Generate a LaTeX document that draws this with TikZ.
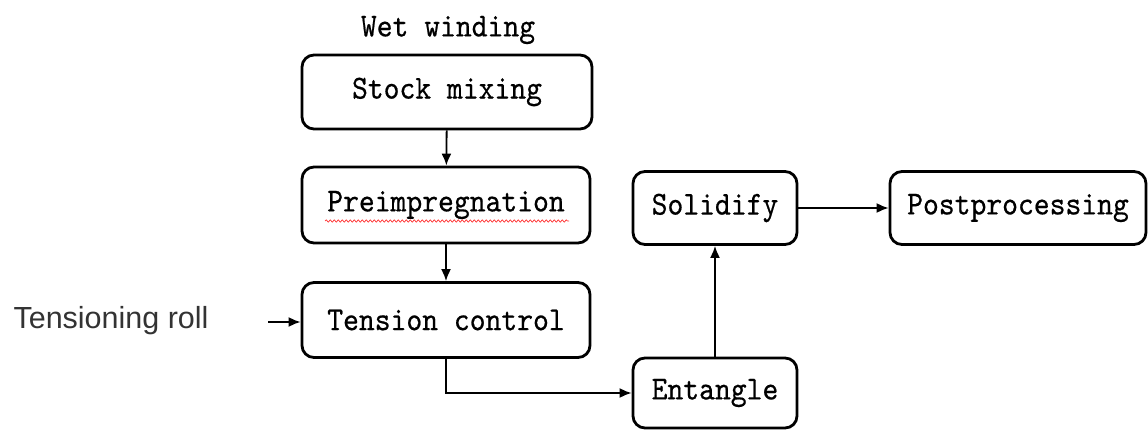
\documentclass[tikz,border=0pt]{standalone}
\usepackage{fontspec}
\setmainfont{Liberation Sans}
\newfontfamily\boxfont[Extension=.otf, FakeStretch=0.9, FakeBold=0.5]{lmmono10-regular}
\newfontfamily\rollfont{Liberation Sans}
\usetikzlibrary{arrows.meta,decorations.pathmorphing}
\definecolor{rollgrey}{HTML}{333333}
\tikzset{
  stepbox/.style={draw=black, line width=2.8pt, rounded corners=12pt, align=center,
    font=\boxfont\fontsize{33.5}{38}\selectfont, inner sep=0pt},
  flow/.style={line width=1.8pt, -{Latex[length=12pt,width=10pt]}},
  titletext/.style={font=\boxfont\fontsize{33.5}{38}\selectfont},
  rolltext/.style={font=\rollfont\fontsize{30.5}{35}\selectfont, text=rollgrey},
}
\begin{document}
\begin{tikzpicture}[x=1pt,y=-1pt]
\useasboundingbox (0,0) rectangle (1148,430);
\node[titletext] (title) at (448,30) {Wet winding};
\node[stepbox, minimum width=290pt, minimum height=74pt] (stock) at (447,92) {Stock mixing};
\node[stepbox, minimum width=288pt, minimum height=76pt] (pre) at (446,205) {Preimpregnation};
\node[stepbox, minimum width=288pt, minimum height=75pt] (tens) at (446,320) {Tension control};
\node[stepbox, minimum width=164pt, minimum height=73pt] (solid) at (715,208) {Solidify};
\node[stepbox, minimum width=164pt, minimum height=70pt] (ent) at (715,393) {Entangle};
\node[stepbox, minimum width=256pt, minimum height=73pt] (post) at (1018,208) {Postprocessing};
\node[rolltext] (roll) at (111,321) {Tensioning roll};
\coordinate (rollin) at (268,322);
\draw[red!80, line width=0.7pt, decorate, decoration={snake, amplitude=1.2pt, segment length=4pt}]
  (325,221) -- (569,221);
\draw[flow] (stock) -- (pre);
\draw[flow] (pre) -- (tens);
\draw[flow] (rollin) -- (tens.west |- rollin);
\draw[flow] (tens.south) |- (ent.west);
\draw[flow] (ent.north) -- (solid.south);
\draw[flow] (solid.east) -- (post.west);
\end{tikzpicture}
\end{document}
